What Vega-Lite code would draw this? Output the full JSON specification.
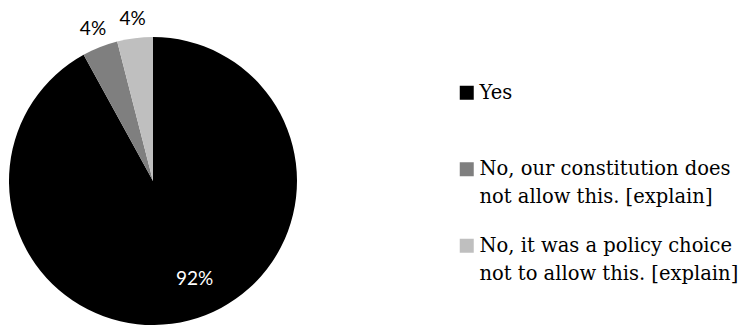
{
  "$schema": "https://vega.github.io/schema/vega-lite/v6.json",
  "width": 288,
  "height": 288,
  "autosize": {"type": "none"},
  "padding": {"left": 9, "top": 37, "right": 450, "bottom": 0},
  "background": "white",
  "config": {"style": {"guide-label": {"lineHeight": 28}}},
  "data": {
    "values": [
      {"answer": "Yes", "pct": 92, "label": "92%", "rank": 1},
      {"answer": "No, our constitution does not allow this. [explain]", "pct": 4, "label": "4%", "rank": 2},
      {"answer": "No, it was a policy choice not to allow this. [explain]", "pct": 4, "label": "4%", "rank": 3}
    ]
  },
  "encoding": {
    "theta": {"field": "pct", "type": "quantitative", "stack": true},
    "order": {"field": "rank", "type": "quantitative"}
  },
  "layer": [
    {
      "mark": {"type": "arc", "outerRadius": 144},
      "encoding": {
        "color": {
          "field": "answer",
          "type": "nominal",
          "scale": {
            "domain": ["Yes", "No, our constitution does not allow this. [explain]", "No, it was a policy choice not to allow this. [explain]"],
            "range": ["#000000", "#7f7f7f", "#bfbfbf"]
          },
          "legend": {
            "title": null,
            "orient": "none",
            "legendX": 448,
            "legendY": 46,
            "symbolType": "square",
            "symbolSize": 196,
            "symbolStrokeWidth": 0,
            "labelFont": "DejaVu Serif",
            "labelFontSize": 19.5,
            "labelColor": "#000000",
            "labelOffset": 3,
            "labelLimit": 400,
            "rowPadding": 27.5,
            "labelExpr": "datum.value == 'Yes' ? ['Yes', ''] : datum.value == 'No, our constitution does not allow this. [explain]' ? ['No, our constitution does', 'not allow this. [explain]'] : ['No, it was a policy choice', 'not to allow this. [explain]']"
          }
        }
      }
    },
    {
      "mark": {"type": "text", "radius": 107, "dx": 15, "dy": -6, "font": "Lato", "fontSize": 19, "color": "white"},
      "encoding": {"text": {"field": "label", "condition": {"test": "datum.rank != 1", "value": ""}}}
    },
    {
      "mark": {"type": "text", "radius": 163, "font": "Lato", "fontSize": 19, "color": "black"},
      "encoding": {"text": {"field": "label", "condition": {"test": "datum.rank == 1", "value": ""}}}
    }
  ]
}
